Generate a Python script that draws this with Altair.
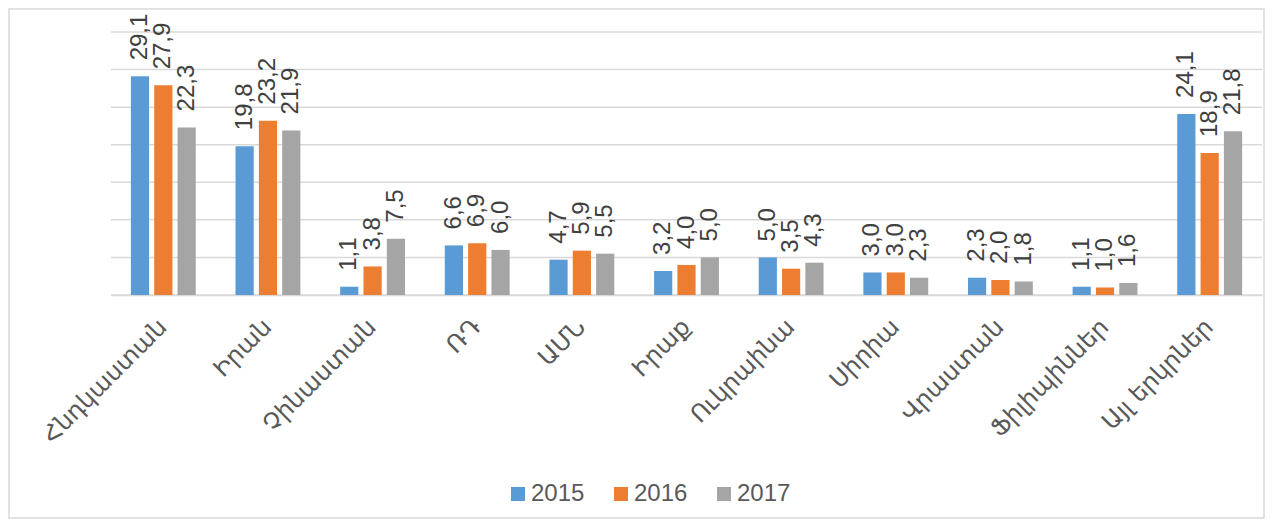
import altair as alt
import pandas as pd

categories = ["Հնդկաստան", "Իրան", "Չինաստան", "ՌԴ", "ԱՄՆ", "Իրաք",
              "Ուկրաինա", "Սիրիա", "Վրաստան", "Ֆիլիպիններ", "Այլ երկրներ"]
years = ["2015", "2016", "2017"]
v2015 = [29.1, 19.8, 1.1, 6.6, 4.7, 3.2, 5.0, 3.0, 2.3, 1.1, 24.1]
v2016 = [27.9, 23.2, 3.8, 6.9, 5.9, 4.0, 3.5, 3.0, 2.0, 1.0, 18.9]
v2017 = [22.3, 21.9, 7.5, 6.0, 5.5, 5.0, 4.3, 2.3, 1.8, 1.6, 21.8]
colors = ["#5B9BD5", "#ED7D31", "#A5A5A5"]
y_ticks = [0, 5, 10, 15, 20, 25, 30, 35]

rows = []
for i, c in enumerate(categories):
    for yr, vals in zip(years, [v2015, v2016, v2017]):
        rows.append({"cat": c, "year": yr, "value": vals[i]})
df = pd.DataFrame(rows)

W, H = 1151, 263
PAD_L, PAD_T, PAD_R, PAD_B = 103, 24, 3, 225

yscale = alt.Scale(domain=[0, 35], nice=False)

grid = alt.Chart(pd.DataFrame({"t": y_ticks})).mark_rule(
    color="#d9d9d9", strokeWidth=1.5
).encode(
    y=alt.Y("t:Q", scale=yscale, axis=None),
    x=alt.value(0), x2=alt.value(W),
)

base = alt.Chart(df).transform_calculate(
    label="replace(format(datum.value, '.1f'), '.', ',')"
).encode(
    x=alt.X("cat:N", sort=categories,
            scale=alt.Scale(paddingInner=0.38, paddingOuter=0.19),
            axis=alt.Axis(title=None, labelAngle=-45, labelAlign="right",
                          labelBaseline="middle", labelFontSize=24,
                          labelFont="DejaVu Sans", labelColor="#595959",
                          labelPadding=28, ticks=False, domainColor="#d9d9d9",
                          domainWidth=1.5, labelOverlap=False, grid=False)),
    xOffset=alt.XOffset("year:N", sort=years,
                        scale=alt.Scale(paddingInner=0.22, paddingOuter=0)),
)

bars = base.mark_bar().encode(
    y=alt.Y("value:Q", scale=yscale, axis=None),
    color=alt.Color("year:N", scale=alt.Scale(domain=years, range=colors),
                    legend=alt.Legend(title=None, orient="none", legendX=395,
                                      legendY=450, direction="horizontal",
                                      symbolType="square", symbolSize=196,
                                      symbolStrokeWidth=0, labelFontSize=24,
                                      labelFont="Liberation Sans",
                                      labelColor="#595959", columnPadding=24,
                                      labelOffset=1)),
)

text = base.mark_text(angle=270, align="left", baseline="middle", dx=16,
                      fontSize=24, font="Liberation Sans",
                      color="#404040").encode(
    y=alt.Y("value:Q", scale=yscale, axis=None),
    text=alt.Text("label:N"),
)

frame = alt.Chart(pd.DataFrame({"f": [0]})).mark_rect(
    fill="transparent", stroke="#d9d9d9", strokeWidth=1.5
).encode(
    x=alt.value(-PAD_L + 1), x2=alt.value(W + PAD_R - 1),
    y=alt.value(-PAD_T + 1), y2=alt.value(H + PAD_B - 2),
)

chart = alt.layer(frame, grid, bars, text).properties(
    width=W, height=H, autosize="none",
    padding={"left": PAD_L, "top": PAD_T, "right": PAD_R, "bottom": PAD_B},
).configure_view(stroke=None)

chart.save("out.html", embed_options={"renderer": "svg", "actions": False})
